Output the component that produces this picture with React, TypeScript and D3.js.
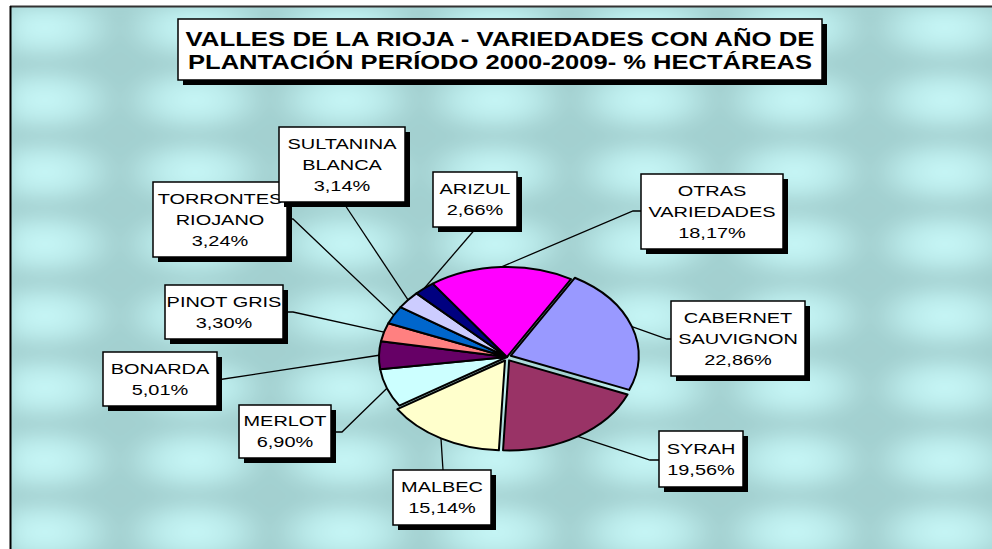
import React, { useEffect } from "react";
import * as d3 from "d3";

// chart values
const varieties = [
  "CABERNET SAUVIGNON",
  "SYRAH",
  "MALBEC",
  "MERLOT",
  "BONARDA",
  "PINOT GRIS",
  "TORRONTES RIOJANO",
  "SULTANINA BLANCA",
  "ARIZUL",
  "OTRAS VARIEDADES",
];
const shares = [22.86, 19.56, 15.14, 6.9, 5.01, 3.3, 3.24, 3.14, 2.66, 18.17];
const labelLines = [
  ["CABERNET", "SAUVIGNON"],
  ["SYRAH"],
  ["MALBEC"],
  ["MERLOT"],
  ["BONARDA"],
  ["PINOT GRIS"],
  ["TORRONTES", "RIOJANO"],
  ["SULTANINA", "BLANCA"],
  ["ARIZUL"],
  ["OTRAS", "VARIEDADES"],
];
const titleLines = [
  "VALLES DE LA RIOJA - VARIEDADES CON AÑO DE",
  "PLANTACIÓN PERÍODO 2000-2009- % HECTÁREAS",
];

// Excel default palette
const colors = [
  "#9999ff", "#993366", "#ffffcc", "#ccffff", "#660066",
  "#ff8080", "#0066cc", "#ccccff", "#000080", "#ff00ff",
];

// label box layout: x, y, w, h and the leader's path after leaving the pie
const labelBoxes = [
  { x: 671, y: 301, w: 134, h: 75, lead: [[667, 339], [671, 339]] },
  { x: 659, y: 431, w: 84, h: 56, lead: [[650, 460], [659, 460]] },
  { x: 393, y: 470, w: 98, h: 55, lead: [[443, 470]] },
  { x: 239, y: 405, w: 92, h: 53, lead: [[342, 432], [331, 432]] },
  { x: 103, y: 352, w: 114, h: 54, lead: [[217, 380]] },
  { x: 165, y: 285, w: 118, h: 54, lead: [[293, 312], [283, 312]] },
  { x: 153, y: 182, w: 134, h: 75, lead: [[293, 219], [287, 219]] },
  { x: 279, y: 127, w: 126, h: 75, lead: [[343, 202]] },
  { x: 433, y: 172, w: 84, h: 55, lead: [[477, 227]] },
  { x: 641, y: 174, w: 142, h: 75, lead: [[633, 211], [641, 211]] },
];
const explode = [4, 4, 4, 0, 0, 0, 0, 0, 0, 0];

const W = 992;
const H = 549;
const cx = 507;
const cy = 357;
const rx = 128;
const ry = 90;

const fmt = (v: number) => v.toFixed(2).replace(".", ",") + "%";

const App: React.FC = () => {
  useEffect(() => {
    document.body.style.margin = "0";
    document.body.style.overflow = "hidden";
  }, []);

  const start = (30 * Math.PI) / 180;
  const pie = d3
    .pie<number>()
    .sort(null)
    .value((d) => d)
    .startAngle(start)
    .endAngle(start + 2 * Math.PI);
  const arcs = pie(shares);

  const onEllipse = (a: number, ox = 0, oy = 0): [number, number] => [
    cx + ox + rx * Math.sin(a),
    cy + oy - ry * Math.cos(a),
  ];

  const slices = arcs.map((a, i) => {
    const mid = (a.startAngle + a.endAngle) / 2;
    const ox = explode[i] * Math.sin(mid);
    const oy = -explode[i] * Math.cos(mid);
    const p0 = onEllipse(a.startAngle, ox, oy);
    const p1 = onEllipse(a.endAngle, ox, oy);
    const large = a.endAngle - a.startAngle > Math.PI ? 1 : 0;
    const path = d3.path();
    path.moveTo(cx + ox, cy + oy);
    path.lineTo(p0[0], p0[1]);
    const d =
      path.toString() +
      `A${rx},${ry} 0 ${large} 1 ${p1[0]},${p1[1]}Z`;
    const edge = onEllipse(mid, ox, oy);
    return { d, edge, i, name: varieties[i] };
  });

  return (
    <svg
      width={W}
      height={H}
      style={{ position: "fixed", left: 0, top: 0, display: "block" }}
    >
      <defs>
        <radialGradient id="cushion" cx="50%" cy="50%" r="50%">
          <stop offset="0%" stopColor="#c9f9f9" />
          <stop offset="45%" stopColor="#bdeded" />
          <stop offset="100%" stopColor="#a3d0d0" />
        </radialGradient>
        <pattern id="water" x={-30} y={-8} width={150} height={72} patternUnits="userSpaceOnUse">
          <rect width={150} height={72} fill="url(#cushion)" />
        </pattern>
        <filter id="soft" x="0" y="0" width="100%" height="100%">
          <feGaussianBlur stdDeviation="8" />
        </filter>
      </defs>
      <rect width={W} height={H} fill="#ffffff" />
      <rect x={10} y={6} width={W + 20} height={H + 20} fill="#a6d4d4" />
      <rect x={10} y={6} width={W + 20} height={H + 20} fill="url(#water)" filter="url(#soft)" />
      <line x1={10} y1={6.5} x2={W} y2={6.5} stroke="#333" strokeWidth={2} />
      <line x1={10.5} y1={6} x2={10.5} y2={H} stroke="#000" strokeWidth={2} />

      {/* title */}
      <rect x={183} y={24} width={644} height={61} fill="#000" />
      <rect x={178} y={19} width={644} height={61} fill="#fff" stroke="#000" strokeWidth={1.5} />
      {titleLines.map((t, k) => (
        <text
          key={k}
          x={500}
          y={46 + k * 23}
          textAnchor="middle"
          fontFamily="Liberation Sans, Arial, sans-serif"
          fontWeight="bold"
          fontSize={21}
          textLength={k === 0 ? 629 : 624}
          lengthAdjust="spacingAndGlyphs"
        >
          {t}
        </text>
      ))}

      {/* leader lines */}
      {slices.map((s) => {
        const pts = [s.edge, ...labelBoxes[s.i].lead] as [number, number][];
        return (
          <path
            key={"l" + s.i}
            d={d3.line()(pts) || ""}
            fill="none"
            stroke="#000"
            strokeWidth={1.3}
          />
        );
      })}

      {/* pie */}
      {slices.map((s) => (
        <path
          key={"s" + s.i}
          d={s.d}
          fill={colors[s.i]}
          stroke="#000"
          strokeWidth={2}
          strokeLinejoin="round"
        >
          <title>{s.name}</title>
        </path>
      ))}

      {/* labels */}
      {labelBoxes.map((b, i) => {
        const lines = [...labelLines[i], fmt(shares[i])];
        const lh = 21;
        const top = b.y + b.h / 2 - ((lines.length - 1) * lh) / 2 + 5;
        return (
          <g key={"b" + i}>
            <rect x={b.x + 5} y={b.y + 5} width={b.w} height={b.h} fill="#000" />
            <rect x={b.x} y={b.y} width={b.w} height={b.h} fill="#fff" stroke="#000" strokeWidth={1.5} />
            {lines.map((t, k) => (
              <text
                key={k}
                transform={`translate(${b.x + b.w / 2},${top + k * lh}) scale(1.33,1)`}
                textAnchor="middle"
                fontFamily="Liberation Sans, Arial, sans-serif"
                fontSize={15}
                fill="#000"
              >
                {t}
              </text>
            ))}
          </g>
        );
      })}
    </svg>
  );
};

export default App;
